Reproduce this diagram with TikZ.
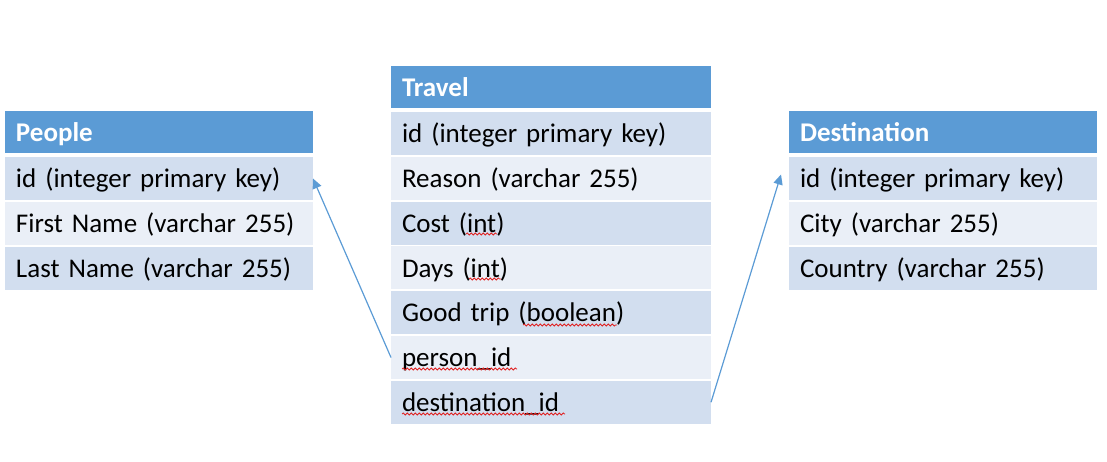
\documentclass[tikz,border=0pt]{standalone}
\usepackage{fontspec}
\setmainfont{Carlito}
\usetikzlibrary{arrows.meta, positioning, decorations.pathmorphing}

\definecolor{hdrblue}{HTML}{5B9BD5}
\definecolor{banddark}{HTML}{D2DEEF}
\definecolor{bandlight}{HTML}{EAEFF7}
\definecolor{squigred}{HTML}{E02020}

\tikzset{
  cell/.style={anchor=north west, inner xsep=5.5pt, inner ysep=0pt, outer sep=0pt,
    align=left, font=\fontsize{13.5pt}{16pt}\selectfont, text height=15.35pt},
  hdr/.style={cell, fill=hdrblue, text=white,
    font=\fontsize{13.5pt}{16pt}\selectfont\bfseries, text depth=5.65pt},
  rowd/.style={cell, fill=banddark, text depth=6.15pt},
  rowl/.style={cell, fill=bandlight, text depth=6.15pt},
  link/.style={draw=hdrblue, line width=0.6pt, -{Triangle[length=5pt,width=4.6pt]}},
  squig/.style={draw=squigred, line width=0.4pt, decorate,
    decoration={snake, amplitude=0.5pt, segment length=2pt}}
}

\begin{document}
\begin{tikzpicture}[x=0.5pt, y=-0.5pt]
\useasboundingbox (0,0) rectangle (1107,461);

% People table
\node[hdr, text width=143pt] (p0) at (5,111) {People};
\node[rowd, text width=143pt, below=2pt of p0] (p1) {id (integer primary key)};
\node[rowl, text width=143pt, below=0.9pt of p1] (p2) {First Name (varchar 255)};
\node[rowd, text width=143pt, below=0.9pt of p2] (p3) {Last Name (varchar 255)};

% Travel table
\node[hdr, text width=149pt] (t0) at (391,66) {Travel};
\node[rowd, text width=149pt, below=2pt of t0] (t1) {id (integer primary key)};
\node[rowl, text width=149pt, below=0.9pt of t1] (t2) {Reason (varchar 255)};
\node[rowd, text width=149pt, below=0.9pt of t2] (t3) {Cost (int)};
\node[rowl, text width=149pt, below=0.9pt of t3] (t4) {Days (int)};
\node[rowd, text width=149pt, below=0.9pt of t4] (t5) {Good trip (boolean)};
\node[rowl, text width=149pt, below=0.9pt of t5] (t6) {person\_id};
\node[rowd, text width=149pt, below=0.9pt of t6] (t7) {destination\_id};

% Destination table
\node[hdr, text width=143pt] (d0) at (789,111) {Destination};
\node[rowd, text width=143pt, below=2pt of d0] (d1) {id (integer primary key)};
\node[rowl, text width=143pt, below=0.9pt of d1] (d2) {City (varchar 255)};
\node[rowd, text width=143pt, below=0.9pt of d2] (d3) {Country (varchar 255)};

% spell-check marks
\draw[squig] (466,234) -- (497,234);
\draw[squig] (469,279) -- (501,279);
\draw[squig] (523,325) -- (617,325);
\draw[squig] (402,369) -- (517,369);
\draw[squig] (402,414) -- (565,414);

% keys
\draw[link] (t6.west) -- (p1.east);
\draw[link] (t7.east) -- ([xshift=-4pt, yshift=2pt]d1.west);
\end{tikzpicture}
\end{document}
